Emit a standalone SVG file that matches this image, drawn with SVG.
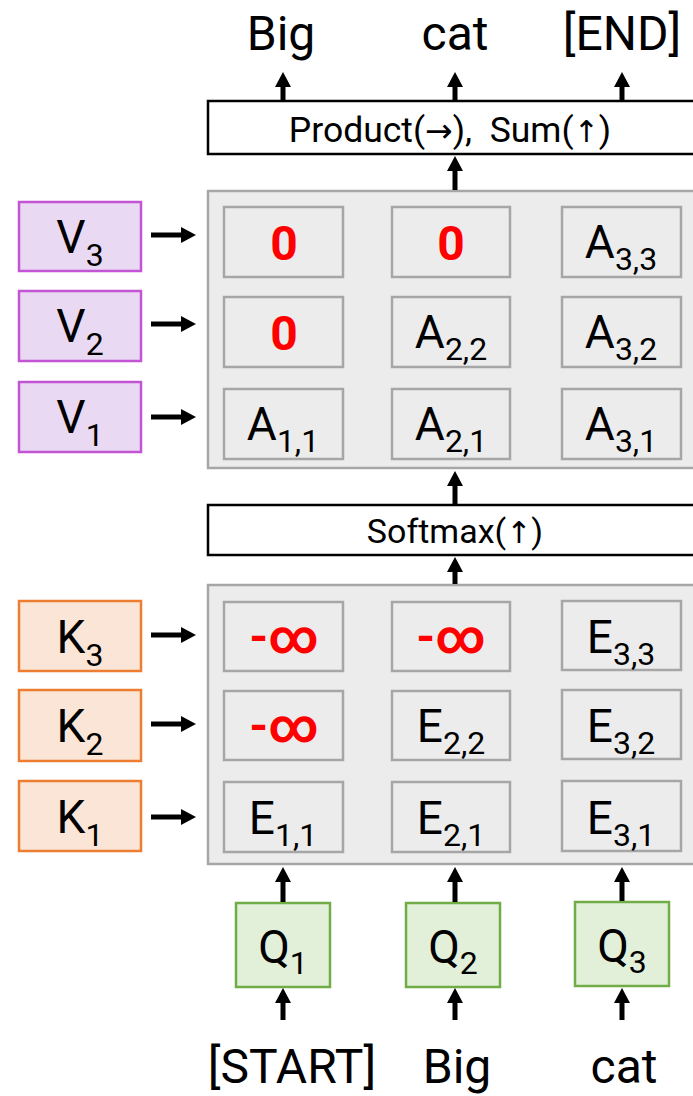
<svg xmlns="http://www.w3.org/2000/svg" width="693" height="1096" viewBox="0 0 693 1096">
<style>
text{font-family:Roboto,"Liberation Sans",sans-serif;fill:#000}
.lbl{font-size:48px;text-anchor:middle}
.op{fill:#fff;stroke:#000;stroke-width:2.5}
.mat{fill:#ececec;stroke:#a6a6a6;stroke-width:2.5}
.cell{fill:#ececec;stroke:#a6a6a6;stroke-width:2.5}
.v{fill:#e9d9f2;stroke:#c355d4;stroke-width:2.5}
.k{fill:#fbe5d6;stroke:#ed7d31;stroke-width:2.5}
.q{fill:#e2f0d9;stroke:#70ad47;stroke-width:2.5}
.ct{font-size:46px;text-anchor:middle}
.sub{font-size:32px}
.red{font-size:48px;font-weight:bold;fill:#ff0000;text-anchor:middle}
.optext{font-size:34px;text-anchor:middle;white-space:pre}
.arr{font-family:"DejaVu Sans",sans-serif;font-size:30px}
.conn line{stroke:#000;stroke-width:5;marker-end:url(#ah)}
</style>
<defs>
<marker id="ah" viewBox="0 0 15 16" markerWidth="15" markerHeight="16" markerUnits="userSpaceOnUse" refX="4" refY="8" orient="auto">
<path d="M0,0 L15,8 L0,16 z" fill="#000"/>
</marker>
</defs>
<rect width="693" height="1096" fill="#fff"/>

<g id="out-labels">
<text class="lbl" x="281" y="50">Big</text>
<text class="lbl" x="455" y="50">cat</text>
<text class="lbl" x="622" y="50">[END]</text>
</g>

<g id="product">
<rect class="op" x="208" y="101" width="500" height="53"/>
<text class="optext" x="450" y="142" style="font-size:35.5px">Product(<tspan class="arr" style="font-size:33px">→</tspan>),  Sum(<tspan class="arr">↑</tspan>)</text>
</g>

<g id="matrixA">
<rect class="mat" x="208" y="191" width="500" height="277"/>
<rect class="cell" x="224" y="207" width="119" height="70"/>
<rect class="cell" x="392" y="207" width="118" height="70"/>
<rect class="cell" x="562" y="207" width="119" height="70"/>
<rect class="cell" x="224" y="297" width="119" height="70"/>
<rect class="cell" x="392" y="297" width="118" height="70"/>
<rect class="cell" x="562" y="297" width="119" height="70"/>
<rect class="cell" x="224" y="389" width="119" height="70"/>
<rect class="cell" x="392" y="389" width="118" height="70"/>
<rect class="cell" x="562" y="389" width="119" height="70"/>
<text class="red" x="284" y="260">0</text>
<text class="red" x="451" y="260">0</text>
<text class="ct" x="621" y="258">A<tspan class="sub" dy="12">3,3</tspan></text>
<text class="red" x="284" y="350">0</text>
<text class="ct" x="451" y="348">A<tspan class="sub" dy="12">2,2</tspan></text>
<text class="ct" x="621" y="348">A<tspan class="sub" dy="12">3,2</tspan></text>
<text class="ct" x="283" y="440">A<tspan class="sub" dy="12">1,1</tspan></text>
<text class="ct" x="451" y="440">A<tspan class="sub" dy="12">2,1</tspan></text>
<text class="ct" x="621" y="440">A<tspan class="sub" dy="12">3,1</tspan></text>
</g>

<g id="V3"><rect class="v" x="19" y="202" width="122" height="69"/><text class="ct" x="80" y="253">V<tspan class="sub" dy="13">3</tspan></text></g>
<g id="V2"><rect class="v" x="19" y="291" width="122" height="70"/><text class="ct" x="80" y="342">V<tspan class="sub" dy="13">2</tspan></text></g>
<g id="V1"><rect class="v" x="19" y="382" width="122" height="70"/><text class="ct" x="80" y="433">V<tspan class="sub" dy="13">1</tspan></text></g>

<g id="softmax">
<rect class="op" x="208" y="505" width="500" height="50"/>
<text class="optext" x="455" y="543">Softmax(<tspan class="arr">↑</tspan>)</text>
</g>

<g id="matrixE">
<rect class="mat" x="208" y="585" width="500" height="279"/>
<rect class="cell" x="224" y="602" width="119" height="69"/>
<rect class="cell" x="392" y="602" width="118" height="69"/>
<rect class="cell" x="562" y="601" width="119" height="69"/>
<rect class="cell" x="224" y="691" width="119" height="69"/>
<rect class="cell" x="392" y="691" width="118" height="69"/>
<rect class="cell" x="562" y="690" width="119" height="69"/>
<rect class="cell" x="224" y="782" width="119" height="70"/>
<rect class="cell" x="392" y="782" width="118" height="70"/>
<rect class="cell" x="562" y="781" width="119" height="70"/>
<text class="red" x="284" y="653">-∞</text>
<text class="red" x="451" y="653">-∞</text>
<text class="ct" x="621" y="653">E<tspan class="sub" dy="12">3,3</tspan></text>
<text class="red" x="284" y="742">-∞</text>
<text class="ct" x="451" y="742">E<tspan class="sub" dy="12">2,2</tspan></text>
<text class="ct" x="621" y="742">E<tspan class="sub" dy="12">3,2</tspan></text>
<text class="ct" x="283" y="834">E<tspan class="sub" dy="12">1,1</tspan></text>
<text class="ct" x="451" y="834">E<tspan class="sub" dy="12">2,1</tspan></text>
<text class="ct" x="621" y="834">E<tspan class="sub" dy="12">3,1</tspan></text>
</g>

<g id="K3"><rect class="k" x="19" y="601" width="122" height="70"/><text class="ct" x="80" y="653">K<tspan class="sub" dy="13">3</tspan></text></g>
<g id="K2"><rect class="k" x="19" y="690" width="122" height="71"/><text class="ct" x="80" y="742">K<tspan class="sub" dy="13">2</tspan></text></g>
<g id="K1"><rect class="k" x="19" y="781" width="122" height="70"/><text class="ct" x="80" y="833">K<tspan class="sub" dy="13">1</tspan></text></g>

<g id="Q1"><rect class="q" x="236" y="903" width="94" height="84"/><text class="ct" x="283" y="963">Q<tspan class="sub" dy="11">1</tspan></text></g>
<g id="Q2"><rect class="q" x="406" y="903" width="94" height="84"/><text class="ct" x="453" y="963">Q<tspan class="sub" dy="11">2</tspan></text></g>
<g id="Q3"><rect class="q" x="575" y="902" width="94" height="84"/><text class="ct" x="622" y="962">Q<tspan class="sub" dy="11">3</tspan></text></g>

<g id="in-labels">
<text class="lbl" x="292" y="1083">[START]</text>
<text class="lbl" x="457" y="1083">Big</text>
<text class="lbl" x="624" y="1083">cat</text>
</g>

<g id="connectors" class="conn">
<line x1="283" y1="100" x2="283" y2="83"/>
<line x1="455" y1="100" x2="455" y2="83"/>
<line x1="622" y1="100" x2="622" y2="83"/>
<line x1="455" y1="190" x2="455" y2="167"/>
<line x1="455" y1="504" x2="455" y2="482"/>
<line x1="455" y1="584" x2="455" y2="568"/>
<line x1="151" y1="235" x2="185" y2="235"/>
<line x1="151" y1="324" x2="185" y2="324"/>
<line x1="151" y1="417" x2="185" y2="417"/>
<line x1="151" y1="635" x2="185" y2="635"/>
<line x1="151" y1="724" x2="185" y2="724"/>
<line x1="151" y1="817" x2="185" y2="817"/>
<line x1="283" y1="902" x2="283" y2="878"/>
<line x1="455" y1="902" x2="455" y2="878"/>
<line x1="622" y1="901" x2="622" y2="878"/>
<line x1="283" y1="1020" x2="283" y2="999"/>
<line x1="455" y1="1020" x2="455" y2="999"/>
<line x1="622" y1="1020" x2="622" y2="999"/>
</g>
</svg>
